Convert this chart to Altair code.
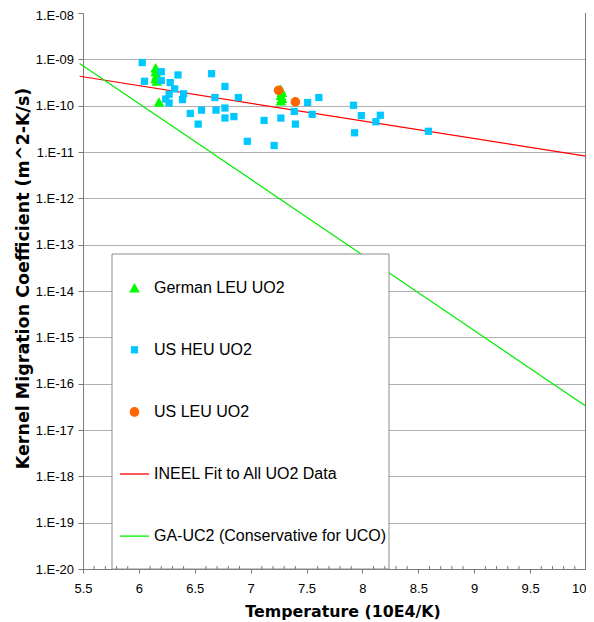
import altair as alt
import pandas as pd

# ---------------- data ----------------
series_names = ["German LEU UO2", "US HEU UO2", "US LEU UO2",
                "INEEL Fit to All UO2 Data", "GA-UC2 (Conservative for UCO)"]
series_colors = ["#00ff00", "#00c8ff", "#ff6600", "#ff0000", "#00ee00"]

german_x = [6.15, 6.15, 6.16, 6.15, 6.16, 6.18, 7.27, 7.28, 7.27, 7.28, 7.27]
german_y = [6.6e-10, 5.5e-10, 4.6e-10, 3.9e-10, 3.4e-10, 1.2e-10,
            2.25e-10, 1.95e-10, 1.68e-10, 1.44e-10, 1.28e-10]

heu_x = [6.03, 6.05, 6.20, 6.20, 6.35, 6.28, 6.32, 6.40, 6.27, 6.24, 6.27, 6.39,
         6.65, 6.77, 6.68, 6.89, 6.46, 6.56, 6.69, 6.77, 6.77, 6.85, 6.53, 6.97,
         7.12, 7.21, 7.27, 7.39, 7.40, 7.51, 7.55, 7.61, 7.92, 7.99, 7.93, 8.12,
         8.16, 8.59]
heu_y = [8.5e-10, 3.36e-10, 5.4e-10, 3.5e-10, 4.6e-10, 3.15e-10, 2.3e-10, 1.8e-10,
         1.76e-10, 1.39e-10, 1.14e-10, 1.35e-10, 4.9e-10, 2.6e-10, 1.5e-10, 1.5e-10,
         6.8e-11, 8.0e-11, 8.0e-11, 8.9e-11, 5.4e-11, 5.8e-11, 4.0e-11, 1.7e-11,
         4.8e-11, 1.38e-11, 5.4e-11, 7.5e-11, 4.0e-11, 1.17e-10, 6.5e-11, 1.5e-10,
         1.02e-10, 6.1e-11, 2.6e-11, 4.5e-11, 6.2e-11, 2.8e-11]

us_leu_x = [7.25, 7.40]
us_leu_y = [2.15e-10, 1.22e-10]

ineel_x = [5.47, 10.0]
ineel_y = [4.31e-10, 8.13e-12]

ga_x = [5.47, 10.0]
ga_y = [8.15e-10, 3.26e-17]

x_tick_values = [5.5, 6.0, 6.5, 7.0, 7.5, 8.0, 8.5, 9.0, 9.5, 10.0]
x_minor_ticks = [5.6, 5.7, 5.8, 5.9, 6.1, 6.2, 6.3, 6.4, 6.6, 6.7, 6.8, 6.9,
                 7.1, 7.2, 7.3, 7.4, 7.6, 7.7, 7.8, 7.9, 8.1, 8.2, 8.3, 8.4,
                 8.6, 8.7, 8.8, 8.9, 9.1, 9.2, 9.3, 9.4, 9.6, 9.7, 9.8, 9.9]
y_tick_exponents = list(range(-20, -7))
y_tick_values = [10.0 ** e for e in y_tick_exponents]

# ---------------- tables ----------------
points = pd.concat([
    pd.DataFrame({"x": german_x, "y": german_y, "series": series_names[0]}),
    pd.DataFrame({"x": heu_x, "y": heu_y, "series": series_names[1]}),
    pd.DataFrame({"x": us_leu_x, "y": us_leu_y, "series": series_names[2]}),
], ignore_index=True)
ineel = pd.DataFrame({"x": ineel_x, "y": ineel_y})
ga = pd.DataFrame({"x": ga_x, "y": ga_y})
minor = pd.DataFrame({"x": x_minor_ticks})

# ---------------- layout ----------------
W, H = 503, 556
AXIS_GRAY = "#7a7a7a"
LABEL_FONT = "Liberation Sans"
TITLE_FONT = "DejaVu Sans"

x_scale = alt.Scale(domain=[5.5, 10], nice=False, zero=False)
y_scale = alt.Scale(type="log", domain=[1e-20, 1e-8], nice=False)

x_axis = alt.Axis(
    values=x_tick_values, format="~g", grid=False, labelFlush=False,
    labelAlign={"condition": {"test": "datum.value >= 10", "value": "right"}, "value": "center"},
    domainColor=AXIS_GRAY, tickColor=AXIS_GRAY, tickSize=4,
    labelFont=LABEL_FONT, labelFontSize=13, labelColor="#000000",
    labelBaseline="alphabetic", labelPadding=19,
    title="Temperature (10E4/K)", titleFont=TITLE_FONT, titleFontWeight="bold",
    titleFontSize=15.8, titleColor="#000000", titleX=259.5, titleY=47,
    titleBaseline="alphabetic", titleAlign="center",
)
y_axis = alt.Axis(
    values=y_tick_values,
    labelExpr="'1.E-' + (round(-log(datum.value)/LN10) < 10 ? '0' : '') + round(-log(datum.value)/LN10)",
    labelOffset={"condition": {"test": "datum.value > 5e-9", "value": 2.5}, "value": 0},
    grid=True, gridColor="#b0b0b0", gridWidth=1,
    gridOpacity={"condition": {"test": "datum.value > 5e-9", "value": 0}, "value": 1},
    domainColor=AXIS_GRAY, tickColor=AXIS_GRAY, tickSize=5,
    labelFont=LABEL_FONT, labelFontSize=13, labelColor="#000000", labelPadding=4.5,
    title="Kernel Migration Coefficient (m^2-K/s)", titleFont=TITLE_FONT,
    titleFontWeight="bold", titleFontSize=17.5, titleColor="#000000",
    titleX=-54.7, titleY=265, titleBaseline="alphabetic", titleAlign="center",
    titleAngle=270,
)

X = alt.X("x:Q", scale=x_scale, axis=x_axis)
Y = alt.Y("y:Q", scale=y_scale, axis=y_axis)

# legend symbols (custom paths, all drawn at one symbol size)
shape_paths = [
    "M0,-0.33L0.37,0.33L-0.37,0.33Z",
    "M-0.25,-0.25H0.25V0.25H-0.25Z",
    "M0.33,0A0.33,0.33,0,1,1,-0.33,0A0.33,0.33,0,1,1,0.33,0Z",
    "M-1,-0.045H1V0.045H-1Z",
    "M-1,-0.045H1V0.045H-1Z",
]
SYM = 841

legend = alt.Legend(
    orient="none", legendX=37, legendY=260.2, title=None, direction="vertical",
    labelFont=LABEL_FONT, labelFontSize=16, labelColor="#000000", labelOffset=5,
    labelLimit=400, rowPadding=39.1, symbolSize=SYM, symbolOpacity=1,
    symbolStrokeWidth=0, padding=0,
)

red_line = alt.Chart(ineel).mark_line(color="#ff0000", strokeWidth=1.2).encode(x=X, y=Y)
green_line = alt.Chart(ga).mark_line(color="#00ee00", strokeWidth=1.2).encode(x=X, y=Y)

legend_box = alt.Chart(pd.DataFrame({"k": [0]})).mark_rect(
    fill="white", stroke="#8c8c8c", strokeWidth=1
).encode(x=alt.value(29), x2=alt.value(306), y=alt.value(241), y2=alt.value(H))

right_border = alt.Chart(pd.DataFrame({"k": [0]})).mark_rule(
    color=AXIS_GRAY, strokeWidth=1
).encode(x=alt.value(W - 0.5), y=alt.value(0), y2=alt.value(H))

minor_ticks = alt.Chart(minor).mark_rule(color=AXIS_GRAY, strokeWidth=1).encode(
    x=X, y=alt.value(H - 3), y2=alt.value(H)
)

pts = alt.Chart(points).mark_point(
    filled=True, size=SYM, opacity=1, strokeWidth=0
).encode(
    x=X, y=Y,
    color=alt.Color("series:N", scale=alt.Scale(domain=series_names, range=series_colors),
                    legend=legend, sort=series_names),
    shape=alt.Shape("series:N", scale=alt.Scale(domain=series_names, range=shape_paths),
                    legend=legend, sort=series_names),
)

chart = alt.layer(red_line, green_line, legend_box, right_border, minor_ticks, pts).properties(
    width=W, height=H,
    autosize=alt.AutoSizeParams(type="none"),
    padding={"left": 75, "top": 5, "right": 0, "bottom": 51},
    background="white",
).configure_view(stroke=None)

chart.save("out.html", embed_options={"renderer": "svg", "actions": False})
